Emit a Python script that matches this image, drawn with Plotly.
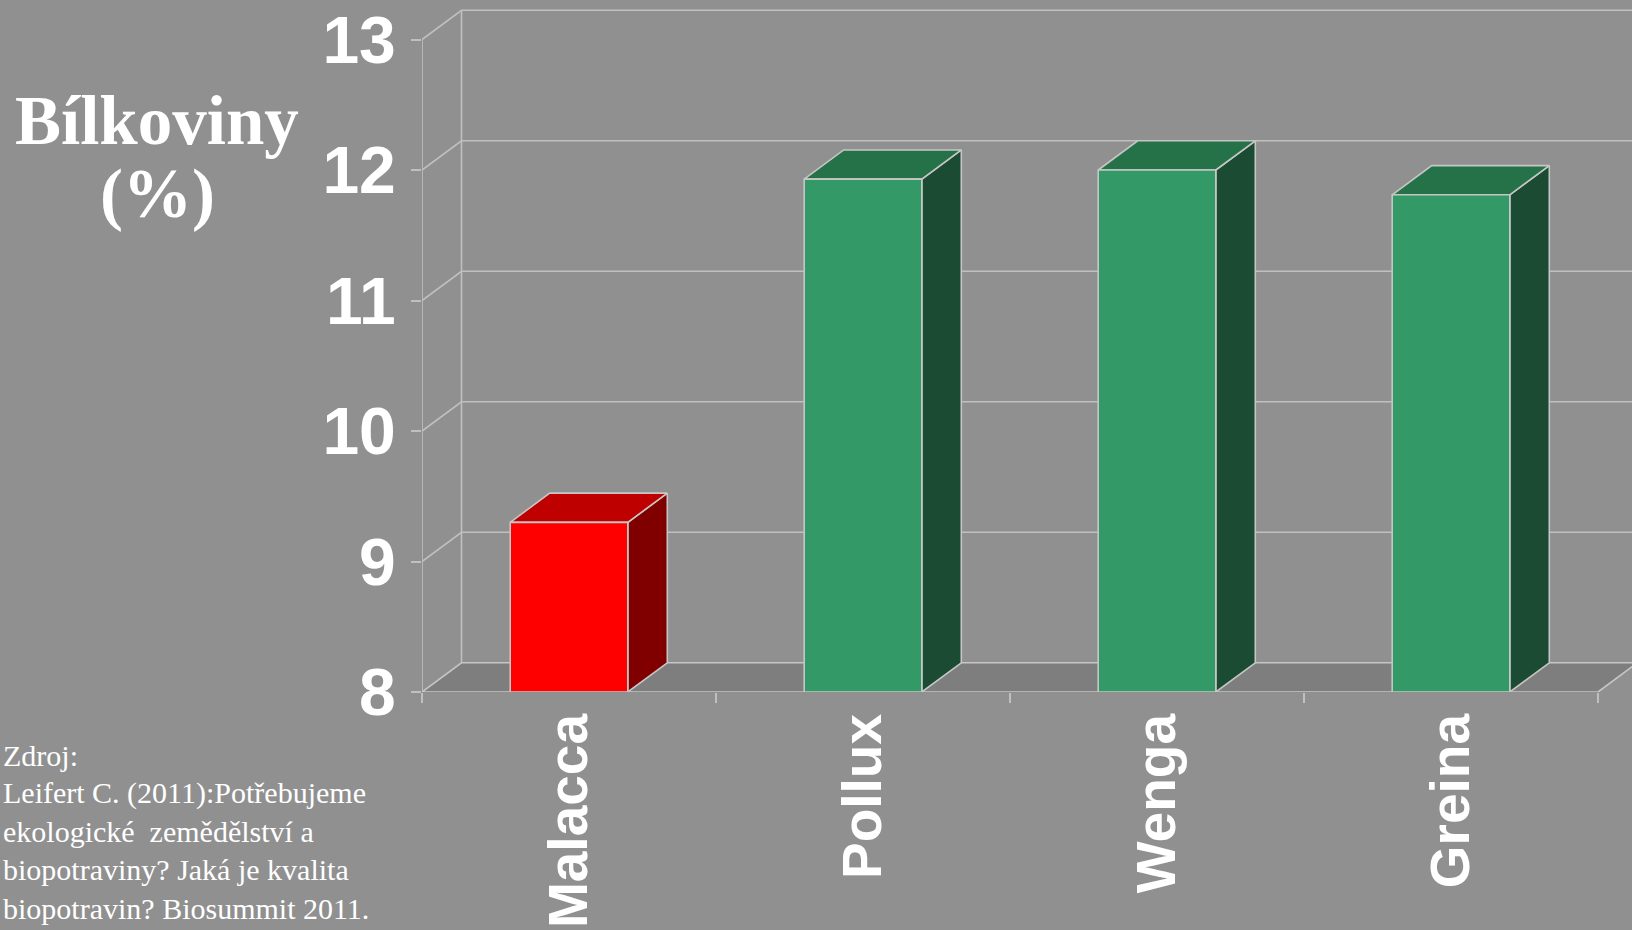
import plotly.graph_objects as go

# Protein content of wheat varieties (%)
categories = ["Malacca", "Pollux", "Wenga", "Greina"]
protein = [9.3, 11.93, 12.0, 11.81]
front_colors = ["#ff0000", "#339966", "#339966", "#339966"]
top_colors = ["#bf0000", "#257249", "#257249", "#257249"]
side_colors = ["#800000", "#1b4c33", "#1b4c33", "#1b4c33"]
y_ticks = [8, 9, 10, 11, 12, 13]

source_lines = [
    "Zdroj:",
    "Leifert C. (2011):Potřebujeme",
    "ekologické  zemědělství a",
    "biopotraviny? Jaká je kvalita",
    "biopotravin? Biosummit 2011.",
]

# Page geometry (pixels)
W, H = 1632, 930
ML, MR, MT, MB = 422, 0, 5, 238
PX_PER_CAT = 294.0
PX_PER_UNIT = 130.5

x_lo = -0.5
x_hi = x_lo + (W - ML - MR) / PX_PER_CAT
y_lo = y_ticks[0]
y_hi = y_lo + (H - MT - MB) / PX_PER_UNIT
x_end = len(categories) - 0.5

# 3-D depth offset expressed in axis units
DX = 39.5 / PX_PER_CAT
DY = 29.2 / PX_PER_UNIT
BAR_W = 0.4

EDGE = "#c6c6c6"
GRID = "#c0c0c0"
BG = "#909090"
FLOOR = "#7e7e7e"


def px_to_paper_x(px):
    return (px - ML) / (W - ML - MR)


def px_to_paper_y(py):
    return (H - MB - py) / (H - MT - MB)


fig = go.Figure()


def line(xs, ys, color=GRID, width=1.6):
    fig.add_trace(go.Scatter(x=xs, y=ys, mode="lines",
                             line=dict(color=color, width=width),
                             hoverinfo="skip", showlegend=False))


def poly(xs, ys, fill, color=EDGE, width=1.6):
    fig.add_trace(go.Scatter(x=xs + [xs[0]], y=ys + [ys[0]], mode="lines",
                             fill="toself", fillcolor=fill,
                             line=dict(color=color, width=width),
                             hoverinfo="skip", showlegend=False))


# Walls: side-wall diagonals and back-wall gridlines
for t in y_ticks[1:]:
    line([x_lo, x_lo + DX, x_end + DX + 1], [t, t + DY, t + DY])
# back wall left edge
line([x_lo + DX, x_lo + DX], [y_lo + DY, y_ticks[-1] + DY])
# front value axis line
line([x_lo, x_lo], [y_lo, y_ticks[-1]])

# Floor
poly([x_lo, x_end, x_end + DX, x_lo + DX],
     [y_lo, y_lo, y_lo + DY, y_lo + DY], FLOOR)

# Bars: side, top and front faces
for i, v in enumerate(protein):
    xl, xr = i - BAR_W / 2, i + BAR_W / 2
    poly([xr, xr + DX, xr + DX, xr], [y_lo, y_lo + DY, v + DY, v], side_colors[i])
    poly([xl, xr, xr + DX, xl + DX], [v, v, v + DY, v + DY], top_colors[i])
    poly([xl, xr, xr, xl], [y_lo, y_lo, v, v], front_colors[i])

# Title of the value axis
fig.add_annotation(text="<b>Bílkoviny</b>", xref="paper", yref="paper",
                   x=px_to_paper_x(157), y=px_to_paper_y(121),
                   xanchor="center", yanchor="middle", showarrow=False,
                   font=dict(family="Liberation Serif", size=69, color="white"))
fig.add_annotation(text="<b>(%)</b>", xref="paper", yref="paper",
                   x=px_to_paper_x(157), y=px_to_paper_y(194),
                   xanchor="center", yanchor="middle", showarrow=False,
                   font=dict(family="Liberation Serif", size=69, color="white"))

# Source note
for k, s in enumerate(source_lines):
    fig.add_annotation(text=s, xref="paper", yref="paper",
                       x=px_to_paper_x(1), y=px_to_paper_y(755 + 38.3 * k),
                       xanchor="left", yanchor="middle", showarrow=False,
                       font=dict(family="Liberation Serif", size=30, color="white"))

fig.update_layout(
    width=W, height=H,
    margin=dict(l=ML, r=MR, t=MT, b=MB, pad=0),
    paper_bgcolor=BG, plot_bgcolor="rgba(0,0,0,0)",
    showlegend=False,
    xaxis=dict(
        range=[x_lo, x_hi], showgrid=False, zeroline=False, showline=False,
        automargin=False,
        tickmode="array", tickvals=list(range(len(categories))), ticktext=categories,
        tickangle=-90, ticks="", ticklabelstandoff=10,
        tickfont=dict(family="Liberation Sans", size=55, color="white", weight="bold"),
        minor=dict(tickmode="array",
                   tickvals=[x_lo + k for k in range(len(categories) + 1)],
                   ticks="outside", ticklen=10, tickwidth=1.6, tickcolor=GRID,
                   showgrid=False),
        fixedrange=True,
    ),
    yaxis=dict(
        range=[y_lo, y_hi], showgrid=False, zeroline=False, showline=False,
        automargin=False,
        tickmode="array", tickvals=y_ticks,
        ticks="outside", ticklen=10, tickwidth=1.6, tickcolor=GRID,
        ticklabelstandoff=2,
        tickfont=dict(family="Liberation Sans", size=66, color="white", weight="bold"),
        fixedrange=True,
    ),
)

fig.write_html("out.html")
